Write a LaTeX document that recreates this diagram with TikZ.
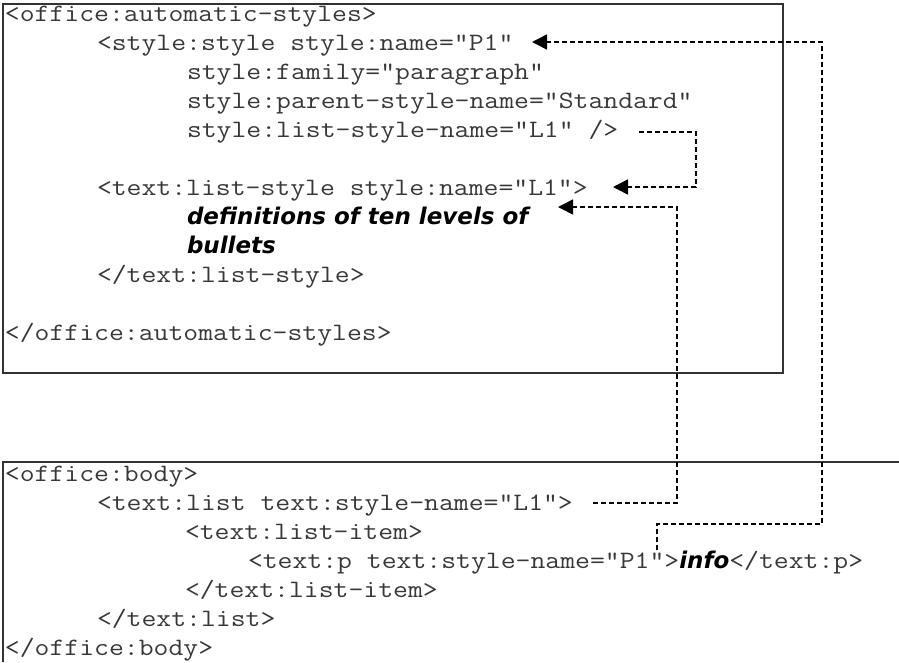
\documentclass[tikz,border=0pt]{standalone}
\usepackage{fontspec}
\usetikzlibrary{arrows.meta}
\newfontfamily\notefont{DejaVu Sans}
\newcommand{\codew}[1]{\scalebox{1.155}[1]{#1}}
\tikzset{
  code/.style={anchor=base west, inner sep=0pt, outer sep=0pt, text=black!78,
    font=\ttfamily\fontsize{25}{29}\selectfont},
  note/.style={anchor=base west, inner sep=0pt, outer sep=0pt, text=black,
    font=\notefont\bfseries\itshape\fontsize{23}{27}\selectfont},
  frame/.style={draw=black!80, line width=2pt},
  link/.style={draw=black, line width=1.5pt, dash pattern=on 5pt off 3pt,
    -{Triangle[length=15pt,width=15pt]}}
}
\begin{document}
\begin{tikzpicture}[x=1pt,y=-1pt]
\useasboundingbox (0,0) rectangle (899,662);
% frames
\draw[frame] (3,4) rectangle (783,373);
\draw[frame] (899,462) -- (3,462) -- (3,662);
% top box text
\node[code] (oas)  at (5,21)   {\codew{<office:automatic-styles>}};
\node[code] (sst)  at (97,50)  {\codew{<style:style style:name="P1"}};
\node[code] (fam)  at (187,79) {\codew{style:family="paragraph"}};
\node[code] (par)  at (187,108) {\codew{style:parent-style-name="Standard"}};
\node[code] (lsn)  at (187,137) {\codew{style:list-style-name="L1" />}};
\node[code] (tls)  at (97,195) {\codew{<text:list-style style:name="L1">}};
\node[note] (defs) at (187,224) {definitions of ten levels of};
\node[note] (bul)  at (187,253) {bullets};
\node[code] (etls) at (97,282) {\codew{</text:list-style>}};
\node[code] (eoas) at (5,340)  {\codew{</office:automatic-styles>}};
% bottom box text
\node[code] (ob)   at (5,481)   {\codew{<office:body>}};
\node[code] (tl)   at (97,510)  {\codew{<text:list text:style-name="L1">}};
\node[code] (tli)  at (185,539) {\codew{<text:list-item>}};
\node[code] (tp)   at (248,568) {\codew{<text:p text:style-name="P1">}};
\node[note] (info) at (tp.base east) [anchor=base west] {info};
\node[code] (etp)  at (info.base east) [anchor=base west] {\codew{</text:p>}};
\node[code] (etli) at (185,597) {\codew{</text:list-item>}};
\node[code] (etl)  at (97,626)  {\codew{</text:list>}};
\node[code] (eob)  at (5,655)   {\codew{</office:body>}};
% connector ends
\coordinate (a1s) at (657,550);
\coordinate (a1e) at (532,42);
\coordinate (a2s) at (639,132);
\coordinate (a2e) at (613,187);
\coordinate (a3s) at (593,503);
\coordinate (a3e) at (558,207);
% connectors
\draw[link] (a1s) -- (657,524) -- (822,524) -- (822,42) -- (a1e);
\draw[link] (a2s) -- (696,132) -- (696,187) -- (a2e);
\draw[link] (a3s) -- (677,503) -- (677,207) -- (a3e);
\end{tikzpicture}
\end{document}
